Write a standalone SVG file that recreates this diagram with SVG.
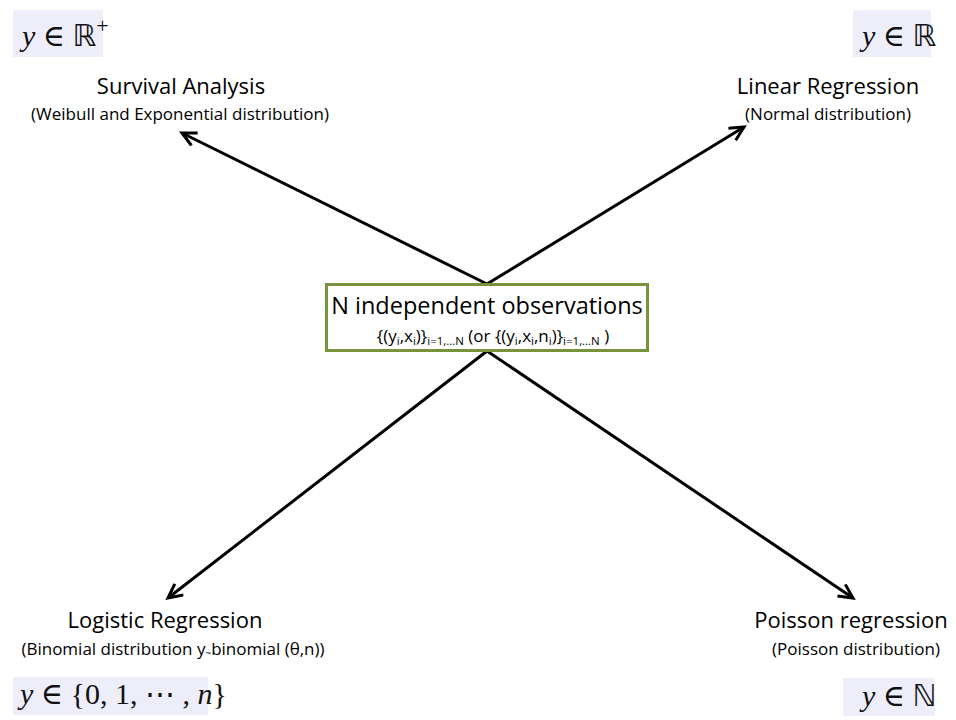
<svg xmlns="http://www.w3.org/2000/svg" width="956" height="720" viewBox="0 0 956 720">
<defs>
<marker id="arr" markerWidth="20" markerHeight="20" refX="16" refY="8" orient="auto" markerUnits="userSpaceOnUse">
<polyline points="2,1 16,8 2,15" fill="none" stroke="#000" stroke-width="3"/>
</marker>
<style>
.t{font-family:"Open Sans","Liberation Sans",sans-serif;fill:#000;text-anchor:middle}
.h{font-size:22px}
.s{font-size:17px}
.m{font-family:"Liberation Serif","DejaVu Serif",serif;font-size:30px;fill:#111}
.bg{fill:#eeeefb}
.ln{stroke:#000;stroke-width:3;fill:none;marker-end:url(#arr)}
</style>
</defs>
<rect width="956" height="720" fill="#fff"/>
<g id="connectors">
<line class="ln" x1="487" y1="284" x2="182" y2="133"/>
<line class="ln" x1="487" y1="284" x2="744" y2="127"/>
<line class="ln" x1="487" y1="351" x2="168" y2="598"/>
<line class="ln" x1="487" y1="351" x2="853" y2="598"/>
</g>
<g id="center">
<rect x="326.5" y="284.5" width="321" height="66" fill="#fff" stroke="#77933c" stroke-width="3"/>
<text class="t" x="487" y="314" font-size="23.5">N independent observations</text>
<text class="t" x="493" y="342" font-size="17">{(y<tspan font-size="11.5" dy="3">i</tspan><tspan dy="-3">,x</tspan><tspan font-size="11.5" dy="3">i</tspan><tspan dy="-3">)}</tspan><tspan font-size="11.5" dy="3">i=1,…N</tspan><tspan dy="-3"> (or {(y</tspan><tspan font-size="11.5" dy="3">i</tspan><tspan dy="-3">,x</tspan><tspan font-size="11.5" dy="3">i</tspan><tspan dy="-3">,n</tspan><tspan font-size="11.5" dy="3">i</tspan><tspan dy="-3">)}</tspan><tspan font-size="11.5" dy="3">i=1,…N</tspan><tspan dy="-3"> )</tspan></text>
</g>
<g id="survival">
<rect class="bg" x="13" y="10" width="90" height="47"/>
<text class="m" x="22" y="46"><tspan font-style="italic">y</tspan> ∈ <tspan font-family="DejaVu Sans">ℝ</tspan><tspan font-size="22" dy="-13">+</tspan></text>
<text class="t h" x="181" y="94">Survival Analysis</text>
<text class="t s" x="180" y="120">(Weibull and Exponential distribution)</text>
</g>
<g id="linear">
<rect class="bg" x="853" y="10" width="78" height="47"/>
<text class="m" x="862" y="46"><tspan font-style="italic">y</tspan> ∈ <tspan font-family="DejaVu Sans">ℝ</tspan></text>
<text class="t h" x="828" y="94">Linear Regression</text>
<text class="t s" x="828" y="120">(Normal distribution)</text>
</g>
<g id="logistic">
<rect class="bg" x="13" y="677" width="195" height="38"/>
<text class="m" x="20" y="704" font-size="28"><tspan font-style="italic">y</tspan> ∈ {0, 1, ⋯ , <tspan font-style="italic">n</tspan>}</text>
<text class="t h" x="165" y="628">Logistic Regression</text>
<text class="t s" x="173" y="655">(Binomial distribution y<tspan font-size="10" dy="2">~</tspan><tspan dy="-2">binomial (θ,n))</tspan></text>
</g>
<g id="poisson">
<rect class="bg" x="843" y="678" width="92" height="38"/>
<text class="m" x="862" y="706"><tspan font-style="italic">y</tspan> ∈ <tspan font-family="DejaVu Sans">ℕ</tspan></text>
<text class="t h" x="851" y="628">Poisson regression</text>
<text class="t s" x="856" y="655">(Poisson distribution)</text>
</g>
</svg>
